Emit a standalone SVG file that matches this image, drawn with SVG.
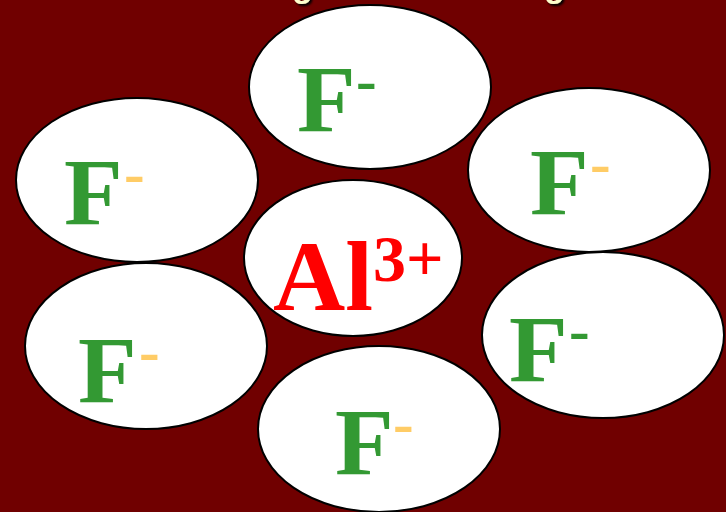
<svg xmlns="http://www.w3.org/2000/svg" width="726" height="512" viewBox="0 0 726 512">
<defs>
<filter id="sh" x="-50%" y="-50%" width="200%" height="200%">
<feDropShadow dx="2" dy="2" stdDeviation="0.8" flood-color="#000" flood-opacity="1"/>
</filter>
</defs>
<style>
.ion{fill:#fff;stroke:#000;stroke-width:2}
.f{font-family:"Liberation Serif","Times New Roman",serif;font-weight:bold;font-size:96px;fill:#339933}
.m{font-family:"Liberation Serif","Times New Roman",serif;font-weight:bold;font-size:62px}
.g{fill:#339933}
.o{fill:#FFCC66}
.al{font-family:"Liberation Serif","Times New Roman",serif;font-weight:bold;fill:#FF0000}
.t{font-family:"Liberation Sans",Arial,sans-serif;font-weight:bold;font-size:34px;fill:#FFFFCC;filter:url(#sh)}
</style>
<rect width="726" height="512" fill="#700000"/>
<g id="title">
<text class="t" x="292" y="-3">g</text>
<text class="t" x="544" y="-3">g</text>
</g>
<g id="f-top">
<ellipse class="ion" cx="370" cy="87" rx="121" ry="82"/>
<text class="f" x="297" y="132">F</text>
<text class="m g" x="356" y="101">-</text>
</g>
<g id="f-left-upper">
<ellipse class="ion" cx="137" cy="180" rx="121" ry="82"/>
<text class="f" x="64" y="225">F</text>
<text class="m o" x="124" y="194">-</text>
</g>
<g id="f-right-upper">
<ellipse class="ion" cx="589" cy="170" rx="121" ry="82"/>
<text class="f" x="530" y="215">F</text>
<text class="m o" x="590" y="184">-</text>
</g>
<g id="al">
<ellipse class="ion" cx="353" cy="258" rx="109" ry="78"/>
<text class="al" x="273" y="310" font-size="100">Al<tspan font-size="66" dy="-29">3+</tspan></text>
</g>
<g id="f-left-lower">
<ellipse class="ion" cx="146" cy="346" rx="121" ry="83"/>
<text class="f" x="78" y="403">F</text>
<text class="m o" x="139" y="372">-</text>
</g>
<g id="f-right-lower">
<ellipse class="ion" cx="603" cy="335" rx="121" ry="83"/>
<text class="f" x="509" y="382">F</text>
<text class="m g" x="569" y="351">-</text>
</g>
<g id="f-bottom">
<ellipse class="ion" cx="379" cy="429" rx="121" ry="83"/>
<text class="f" x="335" y="475">F</text>
<text class="m o" x="393" y="444">-</text>
</g>
<g id="connectors"/>
</svg>
